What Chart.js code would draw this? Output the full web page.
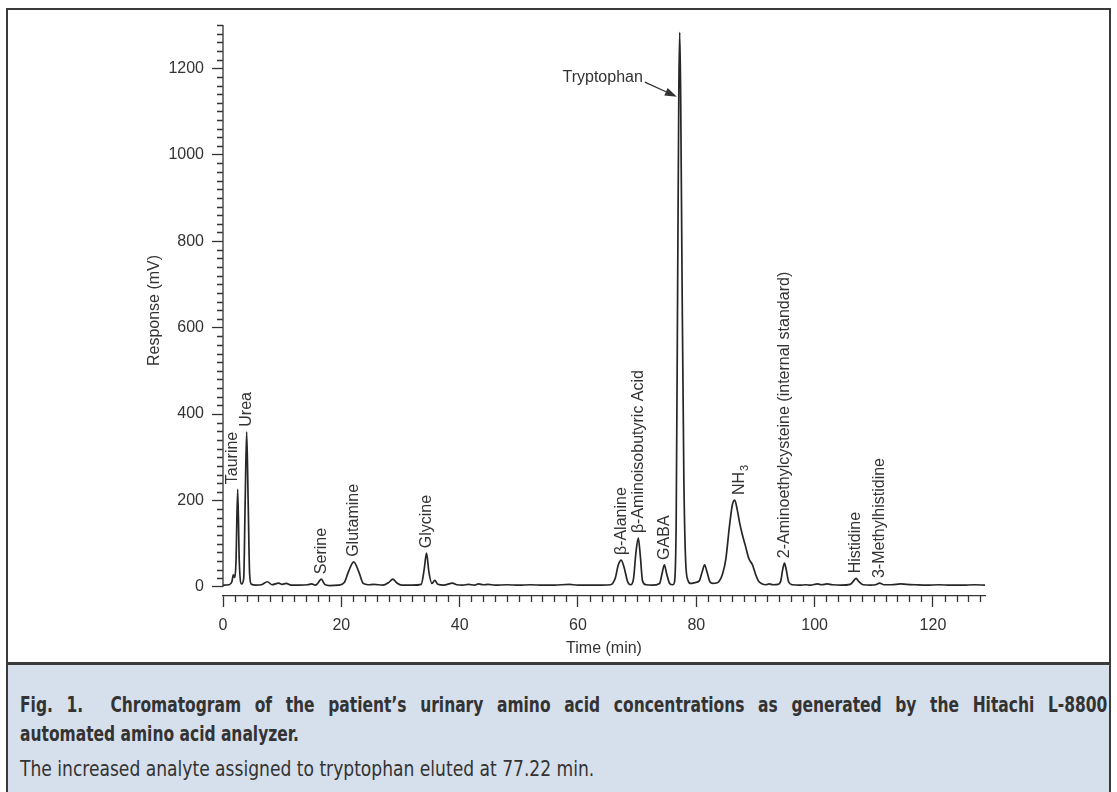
<!DOCTYPE html>
<html><head><meta charset="utf-8">
<script src="https://cdn.jsdelivr.net/npm/chart.js@4.4.1/dist/chart.umd.min.js"></script>
<style>
html,body{margin:0;padding:0;background:#fff;width:1117px;height:792px;overflow:hidden;}
#frame{position:absolute;left:6px;top:8px;width:1105px;height:900px;border:2px solid #3a3a3a;box-sizing:border-box;}
#chartbox{position:absolute;left:0;top:0;width:1117px;height:662px;}
#cap{position:absolute;left:6px;top:662px;width:1105px;height:200px;background:#d6dfec;border:2px solid #3a3a3a;border-top:3px solid #3a3a3a;box-sizing:border-box;padding:26px 0 0 12px;font-family:'Liberation Sans Narrow','Arial Narrow','DejaVu Sans Condensed',sans-serif;color:#333;overflow:hidden;}
#cap .bold{font-weight:bold;font-size:21px;line-height:29px;white-space:nowrap;transform:scaleX(0.82);transform-origin:0 0;width:1326px;}
#cap .just{text-align:justify;text-align-last:justify;}
#cap .l3{font-size:22px;line-height:29px;margin-top:5px;white-space:nowrap;transform:scaleX(0.865);transform-origin:0 0;}
</style>
</head><body>
<div id="frame"></div>
<div id="chartbox"><canvas id="c" width="1117" height="662"></canvas></div>
<div id="cap">
<div class="bold just">Fig. 1.&nbsp; Chromatogram of the patient’s urinary amino acid concentrations as generated by the Hitachi L-8800</div>
<div class="bold">automated amino acid analyzer.</div>
<div class="l3">The increased analyte assigned to tryptophan eluted at 77.22 min.</div>
</div>
<script>
// ---- data ----
const times = [0.0,1.0,1.5,1.75,2.0,2.2,2.48,2.75,3.15,3.5,3.75,4.0,4.25,4.5,4.8,5.5,6.5,7.5,8.3,9.4,10.0,10.7,11.5,13.0,14.3,15.0,15.6,16.0,16.6,17.2,18.0,19.5,20.5,21.2,22.1,23.0,23.7,24.5,25.5,27.0,28.0,28.7,29.4,30.2,32.0,33.5,34.0,34.4,34.8,35.3,35.8,36.3,37.3,38.8,39.5,40.5,41.5,42.5,43.2,44.0,44.8,46.0,48.0,50.0,52.0,54.0,56.0,58.5,60.0,62.0,64.0,65.5,66.3,66.8,67.3,67.8,68.4,68.9,69.4,69.8,70.2,70.55,70.9,71.5,72.5,73.8,74.2,74.6,75.0,75.5,76.0,76.3,76.6,76.85,77.05,77.2,77.35,77.6,77.9,78.2,78.6,79.05,79.8,80.5,81.0,81.4,81.8,82.3,82.8,83.4,83.8,84.4,85.0,85.6,86.1,86.5,86.9,87.3,87.8,88.3,88.9,89.5,90.0,90.5,91.0,91.8,92.3,93.0,93.8,94.3,94.6,94.9,95.2,95.6,96.2,97.5,98.5,99.3,100.5,101.2,102.1,103.0,104.5,106.0,106.6,107.0,107.5,108.2,109.5,110.3,111.0,111.7,113.0,114.5,115.5,117.0,119.0,121.0,123.0,125.0,127.0,128.8];
const responses = [4,5,12,28,22,60,226,60,7,20,200,359,200,30,6,4,5,12,5,9,6,8,4,4,5,7,4,8,18,6,3,4,10,35,58,33,8,5,6,4,10,18,9,4,4,6,40,78,35,8,15,6,4,9,5,4,6,4,7,5,6,4,5,4,5,4,4,6,4,4,4,5,20,50,62,45,12,5,20,80,113,70,15,5,4,8,30,51,30,8,5,10,150,700,1150,1283,1150,700,250,60,15,8,10,14,35,51,35,12,8,9,12,28,65,140,190,201,180,150,120,95,65,51,30,14,8,5,7,5,6,15,40,55,40,12,5,4,5,4,7,5,7,5,4,6,14,20,12,5,4,5,9,5,5,7,6,5,4,5,4,4,5,4];
const xMajorTicks = [0,20,40,60,80,100,120];
const yMajorTicks = [0,200,400,600,800,1000,1200];
const peakNames = ['Taurine','Urea','Serine','Glutamine','Glycine','β-Alanine','β-Aminoisobutyric Acid','GABA','NH|3','2-Aminoethylcysteine (internal standard)','Histidine','3-Methylhistidine'];
const peakTimes = [2.48,4.0,16.6,22.1,34.4,67.3,70.2,74.6,86.5,94.9,107.0,111.0];
const peakTops  = [226,359,18,58,78,62,113,51,201,55,20,9];
const arrowLabel = 'Tryptophan';
const arrowFrom = [71.3,1168];   // [time, response] of arrow tail
const arrowTo   = [76.72,1134];  // [time, response] of arrow tip
const xRange = [0,128.8];
const yRange = [-21,1300];
const yAxisSpan = [0,1300];
const xMinorStep = 2, yMinorStep = 20;

// ---- styling / layout ----
const INK = '#333';
const FONT = "'Liberation Sans', Arial, Helvetica, sans-serif";
const labelDx = {0:-5, 8:5};   // pixel nudges for two labels
Chart.defaults.font.family = FONT;
Chart.defaults.font.size = 16;
Chart.defaults.color = INK;

const decor = {
  id: 'decor',
  afterDraw(chart) {
    const {ctx, chartArea, scales: {x, y}} = chart;
    ctx.save();
    ctx.strokeStyle = INK; ctx.fillStyle = INK; ctx.lineWidth = 1.3;
    const xl = chartArea.left;
    ctx.beginPath();
    ctx.moveTo(xl, y.getPixelForValue(yAxisSpan[0]));
    ctx.lineTo(xl, y.getPixelForValue(yAxisSpan[1]));
    ctx.stroke();
    ctx.beginPath();
    for (let v = yAxisSpan[0]; v <= yAxisSpan[1] + 1e-9; v += yMinorStep) {
      if (yMajorTicks.includes(v)) continue;
      const py = Math.round(y.getPixelForValue(v)) + 0.5;
      ctx.moveTo(xl, py); ctx.lineTo(xl - 6, py);
    }
    const yb = chartArea.bottom;
    for (let t = 0; t <= xRange[1] + 1e-9; t += xMinorStep) {
      if (xMajorTicks.includes(t)) continue;
      const px = Math.round(x.getPixelForValue(t)) + 0.5;
      ctx.moveTo(px, yb); ctx.lineTo(px, yb + 6);
    }
    ctx.stroke();
    ctx.font = '16px ' + FONT;
    peakNames.forEach((name, i) => {
      const px = x.getPixelForValue(peakTimes[i]) + (labelDx[i] || 0);
      const py = y.getPixelForValue(peakTops[i]) - 5;
      ctx.save();
      ctx.translate(px, py);
      ctx.rotate(-Math.PI / 2);
      ctx.textAlign = 'left'; ctx.textBaseline = 'middle';
      const parts = name.split('|');
      ctx.fillText(parts[0], 0, 0);
      if (parts[1]) {
        const w = ctx.measureText(parts[0]).width;
        ctx.font = '11px ' + FONT;
        ctx.fillText(parts[1], w + 1, 5);
      }
      ctx.restore();
    });
    const ax0 = x.getPixelForValue(arrowFrom[0]), ay0 = y.getPixelForValue(arrowFrom[1]);
    const ax1 = x.getPixelForValue(arrowTo[0]), ay1 = y.getPixelForValue(arrowTo[1]);
    ctx.textAlign = 'right'; ctx.textBaseline = 'middle';
    ctx.fillText(arrowLabel, ax0 - 2, ay0 - 4);
    const ang = Math.atan2(ay1 - ay0, ax1 - ax0);
    const hl = 12, hw = 4;
    ctx.beginPath();
    ctx.moveTo(ax0, ay0);
    ctx.lineTo(ax1 - hl * Math.cos(ang), ay1 - hl * Math.sin(ang));
    ctx.stroke();
    ctx.beginPath();
    ctx.moveTo(ax1, ay1);
    ctx.lineTo(ax1 - hl * Math.cos(ang) + hw * Math.sin(ang), ay1 - hl * Math.sin(ang) - hw * Math.cos(ang));
    ctx.lineTo(ax1 - hl * Math.cos(ang) - hw * Math.sin(ang), ay1 - hl * Math.sin(ang) + hw * Math.cos(ang));
    ctx.closePath(); ctx.fill();
    ctx.restore();
  }
};

const gridStyle = {display: true, drawOnChartArea: false, drawTicks: true, tickLength: 11, tickColor: INK, tickWidth: 1.3};

new Chart(document.getElementById('c'), {
  type: 'line',
  data: {
    datasets: [{
      data: times.map((t, i) => ({x: t, y: responses[i]})),
      borderColor: '#262626', borderWidth: 1.7, pointRadius: 0,
      cubicInterpolationMode: 'monotone', fill: false
    }]
  },
  options: {
    responsive: false, animation: false, devicePixelRatio: 1, events: [],
    layout: {padding: {left: 140, top: 25, right: 132, bottom: 0}},
    plugins: {legend: {display: false}, tooltip: {enabled: false}},
    scales: {
      x: {
        type: 'linear', min: xRange[0], max: xRange[1],
        border: {display: true, color: INK, width: 1.3},
        grid: gridStyle,
        ticks: {color: INK, padding: 9, maxRotation: 0, autoSkip: false, font: {size: 16}, callback: v => String(v)},
        title: {display: true, text: 'Time (min)', color: INK, font: {size: 16}, padding: {top: 0, bottom: 4}},
        afterBuildTicks: s => { s.ticks = xMajorTicks.map(v => ({value: v})); },
        afterFit: s => { s.height = 66; }
      },
      y: {
        type: 'linear', min: yRange[0], max: yRange[1],
        border: {display: false},
        grid: gridStyle,
        ticks: {color: INK, padding: 8, font: {size: 16}, callback: v => String(v)},
        title: {display: true, text: 'Response (mV)', color: INK, font: {size: 16}, padding: {top: 5, bottom: 0}},
        afterBuildTicks: s => { s.ticks = yMajorTicks.map(v => ({value: v})); },
        afterFit: s => { s.width = 83; }
      }
    }
  },
  plugins: [decor]
});
</script>
</body></html>
